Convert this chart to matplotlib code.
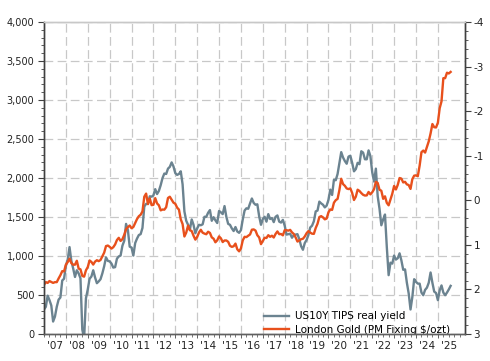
import numpy as np
import matplotlib
matplotlib.use("Agg")
import matplotlib.pyplot as plt
from matplotlib.ticker import MultipleLocator, FixedLocator, FuncFormatter

# monthly readings, Jan 2007 .. Aug 2025
gold_usd = [
    630, 665, 655, 679, 667, 655, 665, 665, 712, 754, 806, 803,        # 2007
    889, 922, 965, 909, 888, 889, 939, 839, 829, 745, 735, 816,        # 2008
    858, 943, 924, 890, 928, 946, 934, 949, 996, 1043, 1127, 1134,     # 2009
    1118, 1095, 1113, 1148, 1205, 1233, 1193, 1215, 1271, 1343, 1370, 1391,  # 2010
    1356, 1372, 1424, 1473, 1510, 1529, 1572, 1760, 1800, 1665, 1739, 1652,  # 2011
    1656, 1742, 1674, 1650, 1585, 1596, 1594, 1626, 1744, 1760, 1721, 1684,  # 2012
    1670, 1620, 1595, 1470, 1410, 1250, 1300, 1390, 1330, 1320, 1260, 1210,  # 2013
    1244, 1301, 1336, 1299, 1287, 1279, 1311, 1296, 1239, 1222, 1176, 1201,  # 2014
    1251, 1227, 1179, 1199, 1199, 1182, 1131, 1117, 1125, 1159, 1086, 1060,  # 2015
    1097, 1200, 1246, 1242, 1260, 1276, 1337, 1341, 1326, 1266, 1238, 1152,  # 2016
    1192, 1234, 1231, 1267, 1246, 1260, 1237, 1283, 1315, 1280, 1282, 1265,  # 2017
    1331, 1331, 1325, 1335, 1303, 1282, 1238, 1185, 1199, 1215, 1221, 1250,  # 2018
    1292, 1320, 1300, 1286, 1284, 1359, 1413, 1500, 1511, 1495, 1470, 1480,  # 2019
    1560, 1597, 1591, 1683, 1716, 1732, 1846, 1990, 1922, 1900, 1866, 1858,  # 2020
    1867, 1808, 1718, 1760, 1850, 1834, 1807, 1785, 1775, 1777, 1821, 1790,  # 2021
    1817, 1856, 1950, 1937, 1849, 1837, 1733, 1765, 1681, 1650, 1726, 1798,  # 2022
    1898, 1853, 1912, 2000, 1992, 1943, 1951, 1918, 1910, 1860, 1985, 2030,  # 2023
    2034, 2023, 2159, 2331, 2352, 2326, 2399, 2470, 2571, 2692, 2651, 2648,  # 2024
    2709, 2895, 2983, 3280, 3280, 3350, 3340, 3360,                          # 2025
]

tips_yield = [
    2.45, 2.39, 2.14, 2.24, 2.36, 2.72, 2.61, 2.39, 2.23, 2.18, 1.80, 1.76,  # 2007
    1.47, 1.33, 1.05, 1.36, 1.53, 1.72, 1.57, 1.64, 1.75, 2.90, 3.10, 2.20,  # 2008
    2.00, 1.76, 1.71, 1.57, 1.73, 1.86, 1.82, 1.77, 1.64, 1.48, 1.28, 1.36,  # 2009
    1.37, 1.42, 1.51, 1.50, 1.31, 1.26, 1.24, 1.02, 0.91, 0.53, 0.67, 1.04,  # 2010
    1.06, 1.24, 0.96, 0.86, 0.78, 0.76, 0.62, 0.14, 0.08, 0.08, -0.09, -0.08,  # 2011
    -0.11, -0.25, -0.14, -0.21, -0.34, -0.50, -0.60, -0.59, -0.71, -0.75, -0.85, -0.76,  # 2012
    -0.61, -0.57, -0.59, -0.65, -0.36, 0.25, 0.46, 0.55, 0.66, 0.43, 0.55, 0.74,  # 2013
    0.63, 0.55, 0.56, 0.54, 0.37, 0.37, 0.28, 0.22, 0.46, 0.38, 0.45, 0.51,  # 2014
    0.24, 0.27, 0.31, 0.13, 0.37, 0.53, 0.55, 0.63, 0.69, 0.60, 0.70, 0.73,  # 2015
    0.67, 0.43, 0.23, 0.18, 0.19, 0.07, -0.04, 0.06, 0.10, 0.09, 0.36, 0.55,  # 2016
    0.42, 0.37, 0.48, 0.31, 0.42, 0.40, 0.49, 0.37, 0.34, 0.48, 0.50, 0.44,  # 2017
    0.57, 0.77, 0.76, 0.75, 0.84, 0.78, 0.77, 0.76, 0.87, 1.03, 1.11, 0.96,  # 2018
    0.89, 0.78, 0.61, 0.57, 0.47, 0.25, 0.23, 0.03, 0.07, 0.10, 0.16, 0.12,  # 2019
    -0.01, -0.24, -0.12, -0.46, -0.45, -0.59, -0.84, -1.08, -0.96, -0.88, -0.82, -0.98,  # 2020
    -1.00, -0.84, -0.65, -0.70, -0.84, -0.81, -1.10, -1.07, -0.92, -0.92, -1.12, -0.99,  # 2021
    -0.63, -0.42, -0.71, -0.09, 0.19, 0.56, 0.43, 0.32, 1.05, 1.68, 1.40, 1.42,  # 2022
    1.24, 1.33, 1.30, 1.19, 1.35, 1.56, 1.55, 1.85, 2.09, 2.45, 2.17, 1.77,  # 2023
    1.83, 1.87, 1.87, 2.07, 2.13, 2.01, 1.96, 1.85, 1.62, 1.85, 2.05, 2.08,  # 2024
    2.24, 2.02, 1.91, 2.07, 2.13, 2.07, 2.00, 1.92,                          # 2025
]

year_labels = ["'07", "'08", "'09", "'10", "'11", "'12", "'13", "'14", "'15", "'16",
               "'17", "'18", "'19", "'20", "'21", "'22", "'23", "'24", "'25"]

gray = "#6b8390"
orange = "#e8501c"
grid_col = "#c8c8c8"

plt.rcParams["font.family"] = "DejaVu Sans"
plt.rcParams["axes.unicode_minus"] = False

months = 2007 + np.arange(len(gold_usd)) / 12.0

fig = plt.figure(figsize=(4.9, 3.61), dpi=100)
ax = fig.add_axes([44/490, 1 - 334/361, (465-44)/490, (334-22)/361])
ax2 = ax.twinx()

ax2.set_ylim(3, -4)

# both lines on the left axes; the TIPS line uses the right axis scale
ax.plot(months, tips_yield, color=gray, lw=1.7, transform=ax2.transData,
        label="US10Y TIPS real yield", solid_joinstyle="round")
ax.plot(months, gold_usd, color=orange, lw=1.7,
        label="London Gold (PM Fixing $/ozt)", solid_joinstyle="round")
ax.set_xlim(2007.0, 2026.24)
ax.set_ylim(0, 4000)

# year boundaries carry the grid, labels sit at mid-year
ax.set_xticks(np.arange(2008, 2026))
ax.xaxis.set_major_formatter(FuncFormatter(lambda v, p: ""))
quarters = np.arange(2007.0, 2026.01, 0.25)
ax.xaxis.set_minor_locator(FixedLocator(quarters))

def year_fmt(v, pos):
    if abs((v % 1) - 0.5) < 1e-6:
        i = int(v - 2007)
        if 0 <= i < len(year_labels):
            return year_labels[i]
    return ""

ax.xaxis.set_minor_formatter(FuncFormatter(year_fmt))
ax.yaxis.set_major_locator(MultipleLocator(500))
ax.yaxis.set_minor_locator(MultipleLocator(100))
ax.yaxis.set_major_formatter(FuncFormatter(lambda v, p: f"{int(v):,}"))
ax.grid(True, which="major", color=grid_col, lw=0.9, linestyle=(0, (7, 3.5)))

ax2.yaxis.set_major_locator(MultipleLocator(1))
ax2.yaxis.set_minor_locator(MultipleLocator(0.2))
ax2.yaxis.set_major_formatter(FuncFormatter(lambda v, p: f"{int(round(v))}"))

ax.tick_params(axis="y", which="major", length=4, width=0.8, color="#404040",
               labelsize=7, pad=3, labelcolor="#222222")
ax.tick_params(axis="y", which="minor", length=2, width=0.6, color="#404040")
ax.tick_params(axis="x", which="major", length=3, width=0.7, color="#606060")
ax.tick_params(axis="x", which="minor", length=2, width=0.6, color="#606060",
               labelsize=7.5, pad=3, labelcolor="#222222")
ax2.tick_params(axis="y", which="major", length=4, width=0.8, color="#404040",
                labelsize=7.5, pad=2, labelcolor="#222222")
ax2.tick_params(axis="y", which="minor", length=2, width=0.6, color="#404040")

for a in (ax, ax2):
    a.spines["left"].set_color("#404040")
    a.spines["right"].set_color("#404040")
    a.spines["bottom"].set_color("#606060")
    a.spines["top"].set_color("#c8c8c8")
    for s in a.spines.values():
        s.set_linewidth(1.0)

ax.legend(loc="lower right", frameon=False, fontsize=7.5, handlelength=2.4,
          handletextpad=0.6, labelspacing=0.3, borderaxespad=0.0,
          bbox_to_anchor=(0.975, -0.015))

fig.savefig("out.png", dpi=100)
